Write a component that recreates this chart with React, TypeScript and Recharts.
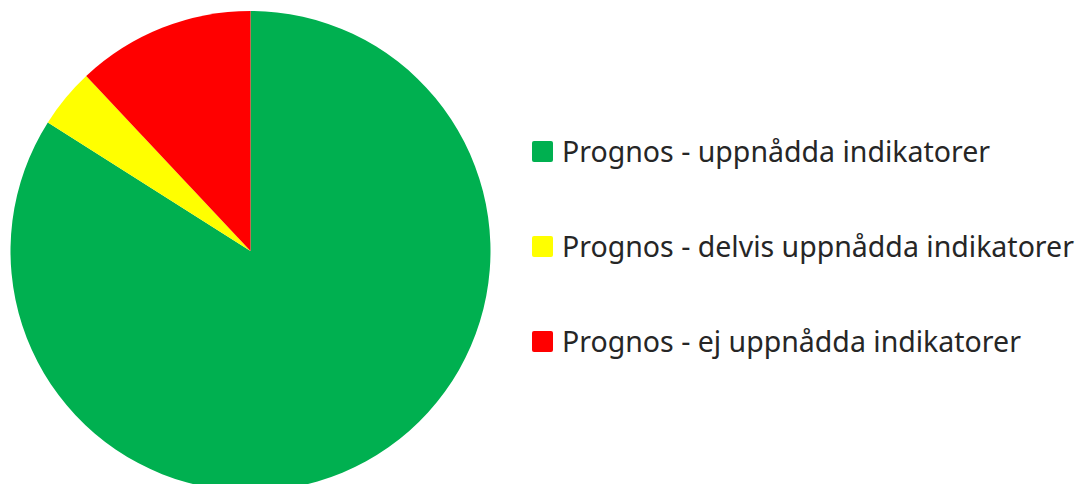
import { PieChart, Pie, Cell, Legend } from "recharts";

const categories = [
  "Prognos - uppnådda indikatorer",
  "Prognos - delvis uppnådda indikatorer",
  "Prognos - ej uppnådda indikatorer",
];
const counts = [21, 1, 3];
const colors = ["#00b050", "#ffff00", "#ff0000"];

const data = categories.map((name, i) => ({ name, value: counts[i] }));

function LegendBox() {
  return (
    <div style={{ position: "relative", width: 540, height: 484 }}>
      {categories.map((name, i) => (
        <div
          key={name}
          style={{
            position: "absolute",
            left: 0,
            top: 134 + i * 95,
            height: 34,
            display: "flex",
            alignItems: "center",
            whiteSpace: "nowrap",
          }}
        >
          <span
            style={{
              display: "inline-block",
              width: 21,
              height: 21,
              background: colors[i],
              borderRadius: 2,
              marginRight: 9,
            }}
          />
          <span
            style={{
              fontFamily: "'Noto Sans', sans-serif",
              fontSize: 28.5,
              color: "#262626",
              lineHeight: "34px",
            }}
          >
            {name}
          </span>
        </div>
      ))}
    </div>
  );
}

export default function App() {
  return (
    <div style={{ position: "absolute", left: 0, top: 0, background: "#fff" }}>
      <PieChart
        width={1077}
        height={484}
        margin={{ top: 0, right: 0, bottom: 0, left: 0 }}
      >
        <Pie
          data={data}
          dataKey="value"
          nameKey="name"
          cx={250.5}
          cy={251}
          outerRadius={240}
          startAngle={90}
          endAngle={-270}
          stroke="none"
          isAnimationActive={false}
        >
          {data.map((d, i) => (
            <Cell key={d.name} fill={colors[i]} />
          ))}
        </Pie>
        <Legend
          content={() => <LegendBox />}
          wrapperStyle={{ position: "absolute", left: 532, top: 0, width: 540 }}
        />
      </PieChart>
    </div>
  );
}
